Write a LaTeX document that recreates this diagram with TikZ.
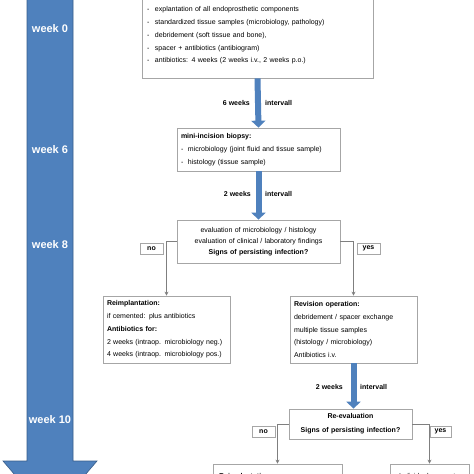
\documentclass[tikz,border=0pt]{standalone}
\usepackage{fontspec}
\setmainfont{Liberation Sans}
\usetikzlibrary{arrows.meta}
\definecolor{bigblue}{HTML}{4F81BD}
\definecolor{bigedge}{HTML}{385D8A}
\definecolor{boxedge}{HTML}{A6A6A6}
\definecolor{connc}{HTML}{7F7F7F}
\newcommand{\dsh}[1]{\makebox[#1][l]{-}}
\begin{document}
\begin{tikzpicture}[x=1pt,y=-1pt,
  fbox/.style={draw=boxedge, fill=white, line width=0.7pt, inner ysep=0pt, inner xsep=4pt,
    font=\fontsize{7}{12.75}\selectfont},
  conn/.style={draw=connc, line width=0.9pt, -{Stealth[length=4pt,width=4pt]}},
  barrow/.style={draw=bigblue, line width=6pt, -{Triangle[length=7pt,width=14pt]}},
  lab/.style={font=\bfseries\fontsize{7}{8}\selectfont, inner sep=0pt},
  wk/.style={text=white, font=\bfseries\fontsize{11}{12}\selectfont, inner sep=0pt},
  tag/.style={draw=boxedge, fill=white, line width=0.7pt, inner sep=0pt,
    minimum height=11pt, font=\bfseries\fontsize{7}{8}\selectfont}]
\useasboundingbox (0,0) rectangle (474,474);
\fill[white] (0,0) rectangle (474,474);
\clip (0,0) rectangle (474,474);

% big time arrow
\draw[fill=bigblue, draw=bigedge, line width=0.6pt]
  (27,-5) -- (73,-5) -- (73,461) -- (97,461) -- (50,516) -- (3,461) -- (27,461) -- cycle;
\node[wk] (wk0) at (50,29) {week 0};
\node[wk] (wk6) at (50,150) {week 6};
\node[wk] (wk8) at (50,245) {week 8};
\node[wk] (wk10) at (50,420) {week 10};

% boxes
\node[fbox, inner xsep=5pt, text width=221pt, minimum height=85pt, align=left] (top) at (257.5,35.5)
  {\dsh{8pt}explantation of all endoprosthetic components\\
   \dsh{8pt}standardized tissue samples (microbiology, pathology)\\
   \dsh{8pt}debridement (soft tissue and bone),\\
   \dsh{8pt}spacer + antibiotics (antibiogram)\\
   \dsh{8pt}antibiotics: 4 weeks (2 weeks i.v., 2 weeks p.o.)};

\node[fbox, text width=155pt, minimum height=43pt, align=left,
  font=\fontsize{7}{13}\selectfont] (mini) at (258.5,149.5)
  {\textbf{mini-incision biopsy:}\\
   \dsh{7pt}microbiology (joint fluid and tissue sample)\\
   \dsh{7pt}histology (tissue sample)};

\node[fbox, text width=155pt, minimum height=43pt, align=center,
  font=\fontsize{7}{11}\selectfont] (eval) at (258.5,241.5)
  {evaluation of microbiology / histology\\
   evaluation of clinical / laboratory findings\\
   \textbf{Signs of persisting infection?}};

\node[tag, minimum width=23pt] (no1) at (151.5,248.5) {no};
\node[tag, minimum width=23pt] (yes1) at (368.5,248.5) {yes};

\node[fbox, text width=119pt, minimum height=67pt, align=left] (reimp) at (166.5,329.5)
  {\textbf{Reimplantation:}\\
   if cemented: plus antibiotics\\
   \textbf{Antibiotics for:}\\
   2 weeks (intraop. microbiology neg.)\\
   4 weeks (intraop. microbiology pos.)};

\node[fbox, text width=119pt, minimum height=67pt, align=left] (revis) at (353.5,329.5)
  {\textbf{Revision operation:}\\
   debridement / spacer exchange\\
   multiple tissue samples\\
   (histology / microbiology)\\
   Antibiotics i.v.};

\node[fbox, text width=115pt, minimum height=30pt, align=center,
  font=\bfseries\fontsize{7}{14}\selectfont] (reeval) at (350.5,424)
  {Re-evaluation\\ Signs of persisting infection?};

\node[tag, minimum width=23pt] (no2) at (263.5,431.5) {no};
\node[tag, minimum width=21pt] (yes2) at (440.5,431.5) {yes};

\node[fbox, minimum width=129pt, minimum height=72pt] (bl) at (277.5,500) {};
\node[fbox, minimum width=79pt, minimum height=72pt] (br) at (429.5,500) {};
\node[lab, anchor=base west] (bltext) at (219,478) {Reimplantation:};
\node[inner sep=0pt, font=\fontsize{7}{8}\selectfont, anchor=base west] (brtext) at (399,478) {Individual concept};

% interval arrows
\draw[barrow] (top.south) -- (mini.north);
\draw[barrow] (mini.south) -- (eval.north);
\draw[barrow] (revis.south) -- (revis.south |- reeval.north);
\node[lab, anchor=east] (i1a) at (250,103) {6 weeks};
\node[lab, anchor=west] (i1b) at (265,103) {intervall};
\node[lab, anchor=east] (i2a) at (251,194) {2 weeks};
\node[lab, anchor=west] (i2b) at (265,194) {intervall};
\node[lab, anchor=east] (i3a) at (343,387) {2 weeks};
\node[lab, anchor=west] (i3b) at (360,387) {intervall};

% decision connectors
\draw[conn] (eval.west) -| (reimp.north);
\draw[conn] (eval.east) -| (revis.north);
\draw[conn] (reeval.west) -| (bl.north);
\draw[conn] (reeval.east) -| (br.north);
\end{tikzpicture}
\end{document}
